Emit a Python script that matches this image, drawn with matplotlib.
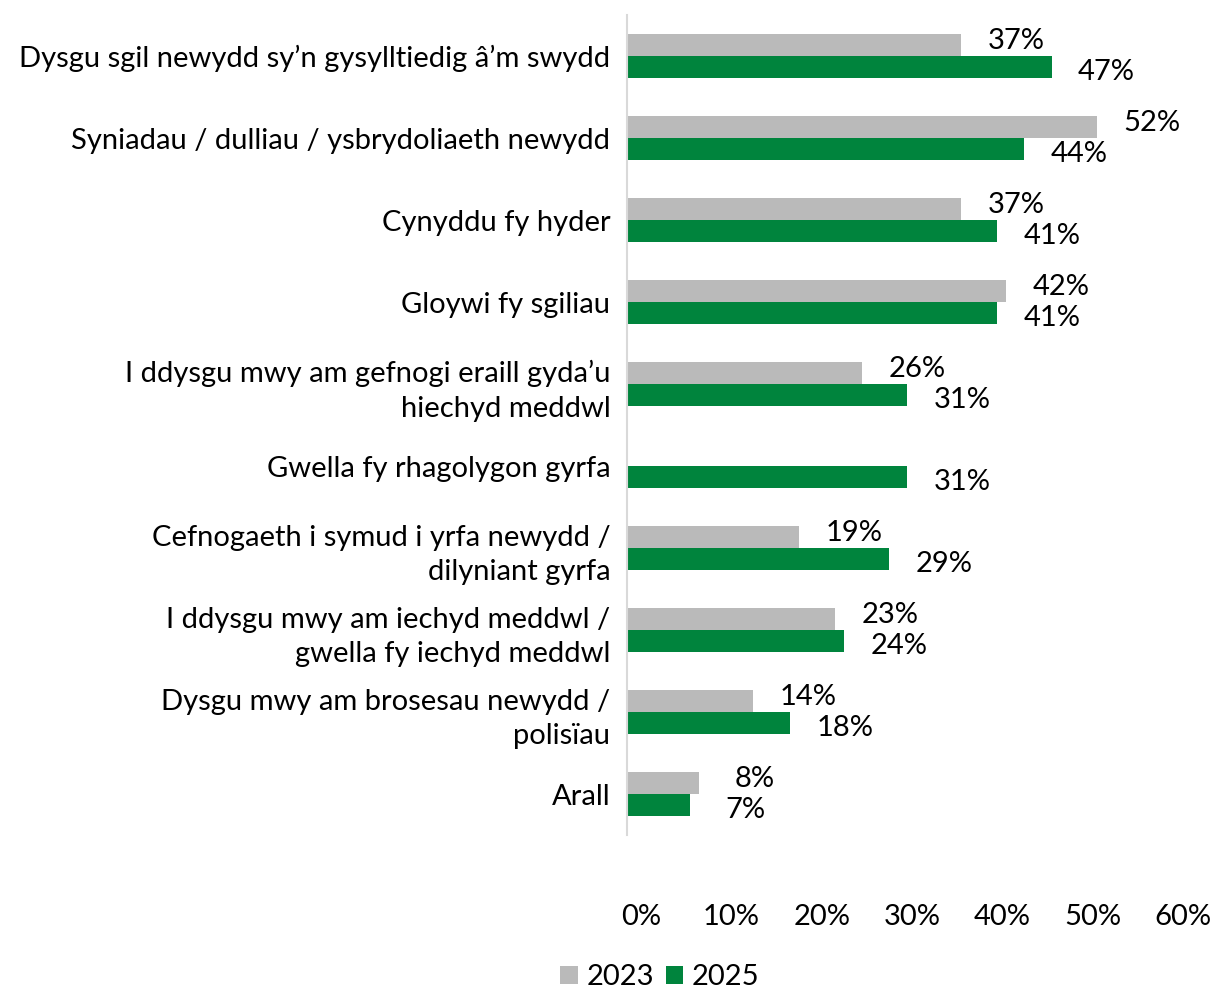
import matplotlib
matplotlib.use("Agg")
import matplotlib.pyplot as plt
from matplotlib.transforms import ScaledTranslation, offset_copy
import numpy as np

categories = [
    "Dysgu sgil newydd sy\u2019n gysylltiedig \u00e2\u2019m swydd",
    "Syniadau / dulliau / ysbrydoliaeth newydd",
    "Cynyddu fy hyder",
    "Gloywi fy sgiliau",
    "I ddysgu mwy am gefnogi eraill gyda\u2019u\nhiechyd meddwl",
    "Gwella fy rhagolygon gyrfa",
    "Cefnogaeth i symud i yrfa newydd /\ndilyniant gyrfa",
    "I ddysgu mwy am iechyd meddwl /\ngwella fy iechyd meddwl",
    "Dysgu mwy am brosesau newydd /\npolis\u00efau",
    "Arall",
]
values_2023 = [37, 52, 37, 42, 26, None, 19, 23, 14, 8]
values_2025 = [47, 44, 41, 41, 31, 31, 29, 24, 18, 7]
series_names = ["2023", "2025"]
xticks = [0, 10, 20, 30, 40, 50, 60]
xtick_labels = ["0%", "10%", "20%", "30%", "40%", "50%", "60%"]

GREY = "#BABABA"
GREEN = "#00843D"
FONT = "Lato"
FS = 21

plt.rcParams["font.family"] = [FONT, "DejaVu Sans"]

W, H = 1215, 988
fig = plt.figure(figsize=(W / 100, H / 100), dpi=100)
ax = fig.add_axes([627 / W, 1 - 835 / H, (1169 - 627) / W, (835 - 15) / H])

y = np.arange(len(categories))
bh = 0.265
for vals, off, col, name, dy in [(values_2023, -bh / 2, GREY, series_names[0], 3),
                                 (values_2025, bh / 2, GREEN, series_names[1], -4)]:
    ys = [yi + off for yi, v in zip(y, vals) if v is not None]
    vs = [v for v in vals if v is not None]
    ax.barh(ys, vs, height=bh, color=col, label=name)
    tr = offset_copy(ax.transData, fig=fig, x=0, y=dy, units="points")
    for yi, v in zip(ys, vs):
        ax.text(v + 6.1, yi, f"{v}%", ha="center", va="center", fontsize=FS,
                color="black", transform=tr)

ax.set_xlim(0, 60)
ax.set_ylim(len(categories) - 0.5, -0.5)
ax.set_yticks(y)
ax.set_yticklabels(categories, fontsize=FS, ha="right", linespacing=1.4)
ax.set_xticks(xticks)
ax.set_xticklabels(xtick_labels, fontsize=FS)
ax.tick_params(axis="both", length=0)
ax.tick_params(axis="y", pad=12)
ax.tick_params(axis="x", pad=50)
for lab in ax.get_xticklabels():
    lab.set_transform(lab.get_transform() + ScaledTranslation(0.14, 0, fig.dpi_scale_trans))

for s in ["top", "right", "bottom"]:
    ax.spines[s].set_visible(False)
ax.spines["left"].set_color("#D9D9D9")
ax.spines["left"].set_linewidth(1.5)

fig.legend(loc="lower center", bbox_to_anchor=(0.543, -0.029), ncol=2, frameon=False,
           fontsize=FS, handlelength=0.6, handleheight=0.6, handletextpad=0.3,
           columnspacing=0.4)

fig.savefig("out.png", dpi=100)
